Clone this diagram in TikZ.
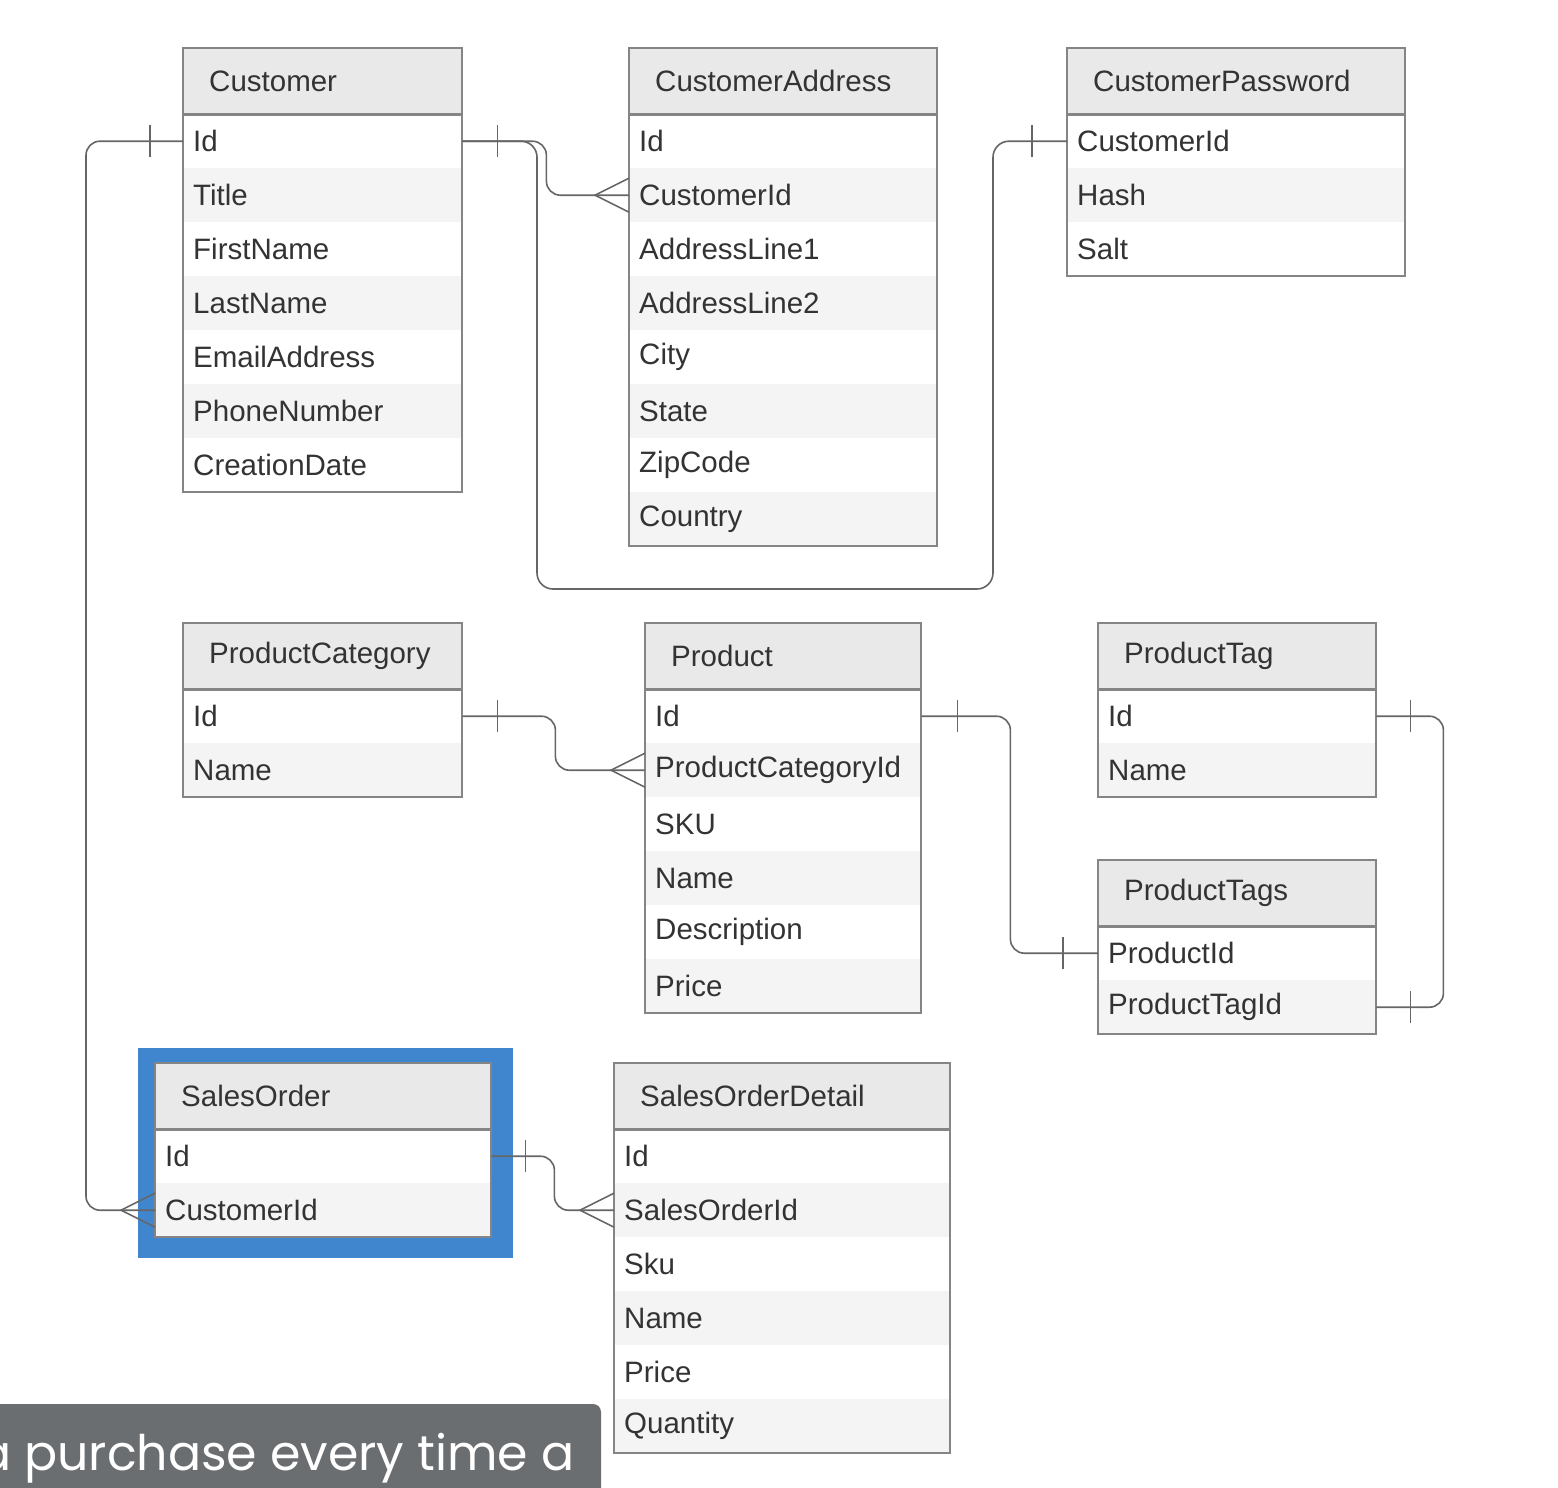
\documentclass[tikz,border=0pt]{standalone}
\usepackage{fontspec}
\setmainfont{Liberation Sans}
\newfontfamily\capfont{Poppins}
\definecolor{txt}{HTML}{333333}
\definecolor{bord}{HTML}{858585}
\definecolor{hdrfill}{HTML}{E8E9E8}
\definecolor{shade}{HTML}{F3F4F3}
\definecolor{connc}{HTML}{666666}
\definecolor{selblue}{HTML}{3F86CE}
\definecolor{capbg}{HTML}{6B6E71}
\tikzset{
  hdrbox/.style={anchor=north west, fill=hdrfill, minimum height=66, inner xsep=26, inner ysep=0, text=txt, font=\fontsize{29.5}{34}\selectfont, align=left},
  rowbox/.style={anchor=north west, minimum height=54, inner xsep=10, inner ysep=0, text=txt, font=\fontsize{29.5}{34}\selectfont, align=left},
  hdrline/.style={draw=bord, line width=3},
  tblborder/.style={draw=bord, line width=2},
  conn/.style={draw=connc, line width=1.6, rounded corners=14},
  tick/.style={draw=connc, line width=1.6},
}
\newcommand\ertable[7]{%
  \pgfmathsetmacro\hdrtw{#4-52}%
  \pgfmathsetmacro\rowtw{#4-20}%
  \node[hdrbox, minimum width=#4, text width=\hdrtw pt] (#1) at (#2,#3) {#5};
  \foreach \r [count=\i] in {#6} {
    \pgfmathsetmacro\ry{#3+66+54*(\i-1)}
    \ifodd\i \def\rf{white}\else\def\rf{shade}\fi
    \node[rowbox, fill=\rf, minimum width=#4, text width=\rowtw pt] (#1-\i) at (#2,\ry) {\r};
  }
  \draw[hdrline] (#1.south west) -- (#1.south east);
  \draw[tblborder] (#2,#3) rectangle ++(#4,{66+54*#7});
}
\newcommand\barat[2]{\draw[tick] ([xshift=#2]#1) ++(0,-16) -- ++(0,32);}
\newcommand\crowleft[1]{\draw[tick] (#1) ++(0,-17) -- ++(-34,17) -- ++(34,17);}
\begin{document}
\begin{tikzpicture}[x=1pt,y=-1pt]
\useasboundingbox (0,0) rectangle (1558,1488);
\fill[white] (0,0) rectangle (1558,1488);
% selection frame
\fill[selblue] (138,1048) rectangle (513,1258);
% tables
\ertable{cust}{183}{48}{279}{Customer}{Id,Title,FirstName,LastName,EmailAddress,PhoneNumber,CreationDate}{7}
\ertable{caddr}{629}{48}{308}{CustomerAddress}{Id,CustomerId,AddressLine1,AddressLine2,City,State,ZipCode,Country}{8}
\ertable{cpw}{1067}{48}{338}{CustomerPassword}{CustomerId,Hash,Salt}{3}
\ertable{pcat}{183}{623}{279}{ProductCategory}{Id,Name}{2}
\ertable{prod}{645}{623}{276}{Product}{Id,ProductCategoryId,SKU,Name,Description,Price}{6}
\ertable{ptag}{1098}{623}{278}{ProductTag}{Id,Name}{2}
\ertable{ptags}{1098}{860}{278}{ProductTags}{ProductId,ProductTagId}{2}
\ertable{so}{155}{1063}{336}{SalesOrder}{Id,CustomerId}{2}
\ertable{sod}{614}{1063}{336}{SalesOrderDetail}{Id,SalesOrderId,Sku,Name,Price,Quantity}{6}
% connectors
\draw[conn] (cust-1.east) -- ++(84,0) |- (caddr-2.west);
\draw[conn, rounded corners=16] (cust-1.east) -| (537,589) -| ([xshift=-74]cpw-1.west) -- (cpw-1.west);
\draw[conn] (cust-1.west) -- ++(-97,0) |- (so-2.west);
\draw[conn] (pcat-1.east) -- ++(93,0) |- (prod-2.west);
\draw[conn] (prod-1.east) -- ++(89,0) |- (ptags-1.west);
\draw[conn] (ptag-1.east) -- ++(67,0) |- (ptags-2.east);
\draw[conn] (so-1.east) -- ++(63,0) |- (sod-2.west);
% one marks
\barat{cust-1.east}{35}
\barat{cust-1.west}{-33}
\barat{cpw-1.west}{-35}
\barat{pcat-1.east}{35}
\barat{prod-1.east}{36}
\barat{ptags-1.west}{-35}
\barat{ptag-1.east}{34}
\barat{ptags-2.east}{34}
\barat{so-1.east}{34}
% many marks
\crowleft{caddr-2.west}
\crowleft{prod-2.west}
\crowleft{so-2.west}
\crowleft{sod-2.west}
% caption
\begin{scope}
\clip (0,1404) rectangle (601,1488);
\fill[capbg, rounded corners=8] (-20,1404) rectangle (601,1520);
\node[anchor=base west, inner sep=0, text=white, font=\capfont\fontsize{49}{56}\selectfont] (cap) at (-22,1470) {a purchase every time a};
\end{scope}
\end{tikzpicture}
\end{document}
